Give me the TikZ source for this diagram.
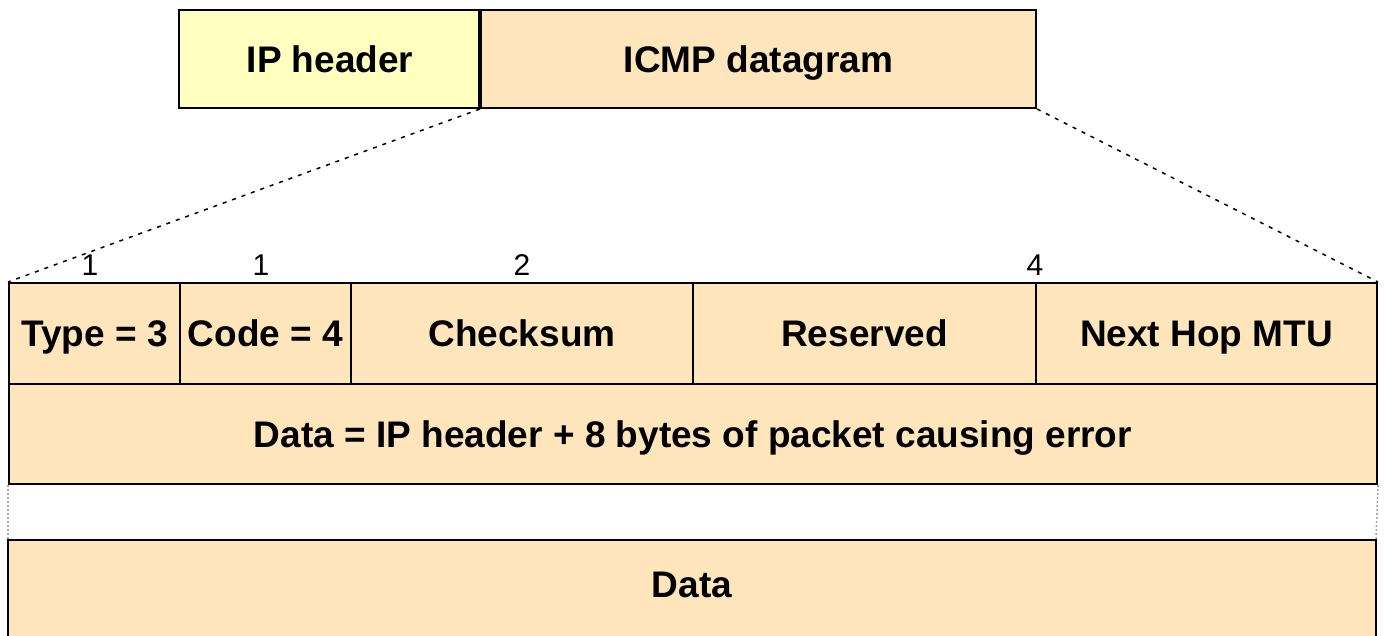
\documentclass[tikz,border=0pt]{standalone}
\usepackage{fontspec}
\setmainfont{Liberation Sans}
\definecolor{ipfill}{HTML}{FFFFC0}
\definecolor{icmpfill}{HTML}{FEE5BC}
\begin{document}
\begin{tikzpicture}[x=1pt,y=-1pt,
  celltext/.style={font=\fontsize{37}{44}\selectfont\bfseries, text height=26.5pt, text depth=0pt},
  cell/.style={celltext, draw=black, line width=2pt, fill=icmpfill, inner sep=0pt, anchor=north west},
  numlab/.style={inner sep=0pt, anchor=base, font=\fontsize{30}{36}\selectfont},
  zoomline/.style={line width=1.5pt, dash pattern=on 4pt off 6pt},
  gapline/.style={line width=1.6pt, gray!70, dash pattern=on 2pt off 2pt}]
\useasboundingbox (0,0) rectangle (1384,636);
% top datagram
\node[cell, fill=ipfill, minimum width=302pt, minimum height=98pt] (ip) at (178,9) {IP header};
\node[cell, minimum width=555pt, minimum height=98pt] (icmp) at (480,9) {ICMP datagram};
\draw[line width=4pt] (icmp.north west) -- (icmp.south west);
% row 1
\node[cell, minimum width=171pt, minimum height=101pt] (type) at (8,282) {Type = 3};
\node[cell, minimum width=171pt, minimum height=101pt] (code) at (179,282) {Code = 4};
\node[cell, minimum width=342pt, minimum height=101pt] (cks) at (350,282) {Checksum};
\node[cell, minimum width=343pt, minimum height=101pt] (res) at (692,282) {Reserved};
\node[cell, minimum width=341pt, minimum height=101pt] (mtu) at (1035,282) {Next Hop MTU};
% row 2
\node[cell, minimum width=1368pt, minimum height=100pt] (data1) at (8,383) {Data = IP header + 8 bytes of packet causing error};
% row 3 (cut off at the bottom)
\fill[icmpfill] (8,540) rectangle (1376,640);
\draw[line width=2.5pt] (8,640) -- (8,540) -- (1376,540) -- (1376,640);
\node[celltext, inner sep=0pt] (data2) at (692,584) {Data};
\coordinate (gl) at (8,540);
\coordinate (gr) at (1376,540);
\draw[gapline] (data1.south west) -- (gl);
\draw[gapline] (data1.south east) -- (gr);
% byte counts
\node[numlab] (n1) at (90,276) {1};
\node[numlab] (n2) at (261,276) {1};
\node[numlab] (n3) at (522,276) {2};
\node[numlab] (n4) at (1035,276) {4};
% zoom lines
\draw[zoomline] (icmp.south west) -- (type.north west);
\draw[zoomline] (icmp.south east) -- (mtu.north east);
\end{tikzpicture}
\end{document}
